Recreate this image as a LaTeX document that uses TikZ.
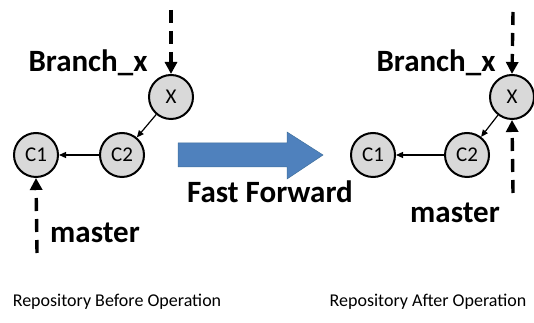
\documentclass[tikz,border=0pt]{standalone}
\usepackage{fontspec}
\setmainfont{Carlito}
\usetikzlibrary{arrows.meta}
\definecolor{commitfill}{HTML}{D9D9D9}
\definecolor{ffblue}{HTML}{4F81BD}
\definecolor{ffedge}{HTML}{41719C}
\begin{document}
\begin{tikzpicture}[x=1pt,y=1pt,
  commit/.style={circle,draw=black,line width=2pt,fill=commitfill,minimum size=44pt,inner sep=0pt,font=\fontsize{21}{24}\selectfont},
  parent/.style={line width=1.2pt,-{Triangle[length=7pt,width=6pt]}},
  refptr/.style={line width=3.4pt,dash pattern=on 13pt off 8pt,-{Triangle[length=12pt,width=12pt]}},
  reflabel/.style={font=\fontsize{31}{35}\selectfont\bfseries},
  caption/.style={font=\fontsize{18}{21}\selectfont}]
\useasboundingbox (0,0) rectangle (534,323);

% repository before the operation
\node[commit] (bx) at (171,226) {X};
\node[commit] (bc2) at (122,168) {C2};
\node[commit] (bc1) at (36,168) {C1};
\draw[parent] (bx) -- (bc2);
\draw[parent] (bc2) -- (bc1);
\node[reflabel] (bbranch) at (88,260) {Branch\_x};
\node[reflabel] (bmaster) at (95,90) {master};
\coordinate (bbtop) at (171,313);
\coordinate (bmbot) at (37,70);
\draw[refptr] (bbtop) -- (bx.north);
\draw[refptr] (bmbot) -- (bc1.south);

% fast-forward arrow
\path[fill=ffblue,draw=ffedge,line width=0.5pt]
  (178,156) -- (287,156) -- (287,144) -- (323,168) -- (287,191) -- (287,180) -- (178,180) -- cycle;
\node[reflabel] (fflabel) at (270,131) {Fast Forward};

% repository after the operation
\node[commit] (ax) at (512,226) {X};
\node[commit] (ac2) at (467,168) {C2};
\node[commit] (ac1) at (373,168) {C1};
\draw[parent] (ax) -- (ac2);
\draw[parent] (ac2) -- (ac1);
\node[reflabel] (abranch) at (436,260) {Branch\_x};
\node[reflabel] (amaster) at (455,110) {master};
\coordinate (abtop) at (513,311);
\coordinate (ambot) at (513,130);
\draw[refptr] (abtop) -- (ax.north);
\draw[refptr] (ambot) -- (ax.south);

% captions
\node[caption] (bcap) at (117,21) {Repository Before Operation};
\node[caption] (acap) at (428,21) {Repository After Operation};
\end{tikzpicture}
\end{document}
